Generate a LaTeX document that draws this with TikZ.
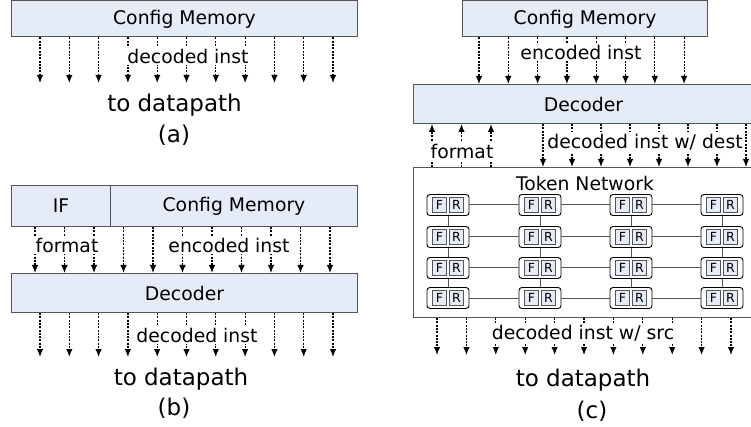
\documentclass[tikz,border=0pt]{standalone}
\usepackage{fontspec}
\setmainfont{DejaVu Sans}
\usetikzlibrary{positioning, arrows.meta}

\definecolor{boxfill}{RGB}{229,235,247}
\definecolor{boxline}{RGB}{85,85,85}
\newcommand{\midfont}{\fontsize{18.8}{22}\selectfont}
\newcommand{\bigfont}{\fontsize{23}{27}\selectfont}

\begin{document}
\begin{tikzpicture}[
    x=1pt, y=-1pt,
    box/.style={
        rectangle,
        draw=boxline,
        fill=boxfill,
        line width=1pt,
        anchor=north west,
        minimum height=36pt,
        inner sep=0pt,
        font=\midfont
    },
    sig/.style={
        line width=1.2pt,
        dash pattern=on 2pt off 1.3pt,
        -{Latex[length=8pt,width=6.5pt]}
    },
    tag/.style={fill=white, inner sep=1.5pt, font=\midfont},
    sink/.style={font=\bigfont, inner sep=0pt},
    router/.style={
        rectangle,
        rounded corners=3pt,
        draw=black,
        line width=0.9pt,
        minimum width=42pt,
        minimum height=21pt
    },
    fr/.style={
        rectangle,
        draw=boxline,
        fill=boxfill,
        line width=0.9pt,
        minimum width=14pt,
        minimum height=15pt,
        inner sep=0pt,
        font=\fontsize{12.5}{13}\selectfont
    },
    link/.style={draw=boxline, line width=1pt}
]
\useasboundingbox (0,0) rectangle (751,427);

% (a) config memory straight to the datapath
\node[box, minimum width=346pt] (cfgA) at (11,0.5) {Config Memory};
\coordinate (endA) at (0,83);
\foreach \i [evaluate=\i as \x using 40+29.3*\i] in {0,...,10}
    \draw[sig] (\x,0 |- cfgA.south) -- (\x,0 |- endA);
\node[tag] (tagA) at (188,56) {decoded inst};
\node[sink] (toA) at (174.5,105) {to datapath};
\node[sink] (capA) at (174,135) {(a)};

% (b) IF + config memory feeding a decoder
\node[box, minimum width=99pt, minimum height=41pt] (ifB) at (11,185) {IF};
\node[box, minimum width=247pt, minimum height=41pt] (cfgB) at (110,185) {Config Memory};
\node[box, minimum width=346pt, minimum height=39pt] (decB) at (11,273) {Decoder};
\coordinate (endB) at (0,357);
\foreach \i [evaluate=\i as \x using 35+29.5*\i] in {0,...,10}
    \draw[sig] (\x,0 |- cfgB.south) -- (\x,0 |- decB.north);
\foreach \i [evaluate=\i as \x using 40+29.3*\i] in {0,...,10}
    \draw[sig] (\x,0 |- decB.south) -- (\x,0 |- endB);
\node[tag] (tagB1) at (67,245) {format};
\node[tag] (tagB2) at (229,245) {encoded inst};
\node[tag] (tagB3) at (197,335) {decoded inst};
\node[sink] (toB) at (181,379) {to datapath};
\node[sink] (capB) at (174,408) {(b)};

% (c) decoder + token network
\node[box, minimum width=245pt] (cfgC) at (462,0.5) {Config Memory};
\node[box, minimum width=340pt, minimum height=39pt] (decC) at (413,84) {Decoder};
\node[box, fill=white, minimum width=340pt, minimum height=150pt] (tnC) at (413,167) {};
\node[font=\midfont, inner sep=0pt] (tnlbl) at (585,183) {Token Network};
\coordinate (endC) at (0,355);
\foreach \i [evaluate=\i as \x using 479+29.3*\i] in {0,...,7}
    \draw[sig] (\x,0 |- cfgC.south) -- (\x,0 |- decC.north);
\foreach \i [evaluate=\i as \x using 432+29.5*\i] in {0,...,2}
    \draw[sig] (\x,0 |- tnC.north) -- (\x,0 |- decC.south);
\foreach \i [evaluate=\i as \x using 543+29*\i] in {0,...,7}
    \draw[sig] (\x,0 |- decC.south) -- (\x,0 |- tnC.north);
\foreach \i [evaluate=\i as \x using 437+29.4*\i] in {0,...,10}
    \draw[sig] (\x,0 |- tnC.south) -- (\x,0 |- endC);
\node[tag] (tagC1) at (581,52) {encoded inst};
\node[tag] (tagC2) at (462,151) {format};
\node[tag] (tagC3) at (645,142) {decoded inst w/ dest};
\node[tag] (tagC4) at (583,333) {decoded inst w/ src};
\node[sink] (toC) at (583,380) {to datapath};
\node[sink] (capC) at (592,411) {(c)};

% 4x4 grid of routers
\foreach \c/\x in {1/448,2/540,3/631,4/722}
    \foreach \r/\y in {1/205,2/237,3/268,4/298} {
        \node[router] (r\r\c) at (\x,\y) {};
        \node[fr] (f\r\c) at ([xshift=-8.5pt]r\r\c.center) {F};
        \node[fr] (s\r\c) at ([xshift=8.5pt]r\r\c.center) {R};
    }
\foreach \r in {1,...,4} {
    \draw[link] (r\r1) -- (r\r2);
    \draw[link] (r\r2) -- (r\r3);
    \draw[link] (r\r3) -- (r\r4);
}
\foreach \c in {1,...,4} {
    \draw[link] (r1\c) -- (r2\c);
    \draw[link] (r2\c) -- (r3\c);
    \draw[link] (r3\c) -- (r4\c);
}
\end{tikzpicture}
\end{document}
